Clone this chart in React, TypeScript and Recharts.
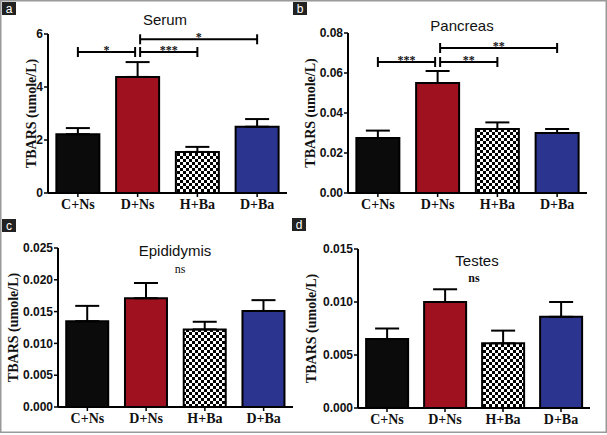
import React from 'react';
import { BarChart, Bar, Cell, XAxis, YAxis, ErrorBar, ReferenceLine, Label } from 'recharts';

const categories = ['C+Ns', 'D+Ns', 'H+Ba', 'D+Ba'];

const serumMean = [2.22, 4.38, 1.55, 2.5];
const serumSem = [0.23, 0.56, 0.19, 0.29];
const pancreasMean = [0.0275, 0.055, 0.032, 0.03];
const pancreasSem = [0.0037, 0.006, 0.0033, 0.002];
const epididymisMean = [0.0135, 0.0171, 0.0122, 0.0151];
const epididymisSem = [0.0024, 0.0024, 0.0012, 0.0017];
const testesMean = [0.0065, 0.01, 0.0061, 0.0086];
const testesSem = [0.001, 0.0012, 0.0012, 0.0014];

const serumTicks = [0, 2, 4, 6];
const pancreasTicks = [0, 0.02, 0.04, 0.06, 0.08];
const epididymisTicks = [0, 0.005, 0.01, 0.015, 0.02, 0.025];
const testesTicks = [0, 0.005, 0.01, 0.015];

type Bracket = { from: string; to: string; y: number; stars: string; shiftFrom: number; shiftTo: number };

const serumBrackets: Bracket[] = [
  { from: 'C+Ns', to: 'D+Ns', y: 5.32, stars: '*', shiftFrom: 0, shiftTo: -2.5 },
  { from: 'D+Ns', to: 'H+Ba', y: 5.32, stars: '***', shiftFrom: 2.5, shiftTo: 0 },
  { from: 'D+Ns', to: 'D+Ba', y: 5.8, stars: '*', shiftFrom: 2.5, shiftTo: 0 },
];
const pancreasBrackets: Bracket[] = [
  { from: 'C+Ns', to: 'D+Ns', y: 0.0655, stars: '***', shiftFrom: 0, shiftTo: -2.5 },
  { from: 'D+Ns', to: 'H+Ba', y: 0.0655, stars: '**', shiftFrom: 2.5, shiftTo: 0 },
  { from: 'D+Ns', to: 'D+Ba', y: 0.0725, stars: '**', shiftFrom: 2.5, shiftTo: 0 },
];

const SANS = '"Liberation Sans", Arial, sans-serif';
const SERIF = '"Liberation Serif", "Times New Roman", serif';
const FILLS = ['#0b0b0b', '#a0111f', 'url(#checker)', '#2b3590'];

const buildRows = (means: number[], sems: number[]) =>
  categories.map((name, i) => ({ name, value: means[i], err: [0, sems[i]] }));

const bracketShape = (b: Bracket) => (props: any) => {
  const x1 = props.x1 + b.shiftFrom;
  const x2 = props.x2 + b.shiftTo;
  const y = props.y1;
  return (
    <g>
      <line x1={x1} x2={x2} y1={y} y2={y} stroke="#000" strokeWidth={2} />
      <line x1={x1} x2={x1} y1={y - 5} y2={y + 5} stroke="#000" strokeWidth={2} />
      <line x1={x2} x2={x2} y1={y - 5} y2={y + 5} stroke="#000" strokeWidth={2} />
      <text x={(x1 + x2) / 2} y={y + 2} textAnchor="middle" fontSize={12} fontWeight="bold" fontFamily={SERIF} fill="#111">
        {b.stars}
      </text>
    </g>
  );
};

const yLabel = (offsetX: number) => (props: any) => {
  const vb = props.viewBox;
  const x = vb.x + offsetX;
  const y = vb.y + vb.height / 2;
  return (
    <text x={x} y={y} transform={`rotate(-90 ${x} ${y})`} textAnchor="middle" dominantBaseline="central"
      fontSize={14} fontWeight="bold" fontFamily={SERIF} fill="#111">
      TBARS (umole/L)
    </text>
  );
};

interface PanelProps {
  left: number;
  top: number;
  width: number;
  height: number;
  means: number[];
  sems: number[];
  ticks: number[];
  digits: number;
  yAxisWidth: number;
  labelX: number;
  margin: { top: number; right: number; left: number; bottom: number };
  xAxisHeight: number;
  brackets: Bracket[];
}

const Panel: React.FC<PanelProps> = ({ left, top, width, height, means, sems, ticks, digits, yAxisWidth, labelX, margin, xAxisHeight, brackets }) => {
  const rows = buildRows(means, sems);
  return (
    <div style={{ position: 'absolute', left, top }}>
      <BarChart width={width} height={height} data={rows} margin={margin} barCategoryGap="14%">
        <XAxis
          dataKey="name"
          height={xAxisHeight}
          interval={0}
          tickSize={4}
          tickMargin={2}
          axisLine={{ stroke: '#000', strokeWidth: 2 }}
          tickLine={{ stroke: '#000', strokeWidth: 1.5 }}
          tick={{ fill: '#111', fontSize: 14, fontWeight: 'bold', fontFamily: SERIF }}
        />
        <YAxis
          width={yAxisWidth}
          domain={[ticks[0], ticks[ticks.length - 1]]}
          ticks={ticks}
          interval={0}
          allowDataOverflow
          tickFormatter={(v: number) => v.toFixed(digits)}
          tickSize={4}
          tickMargin={1}
          axisLine={{ stroke: '#000', strokeWidth: 2 }}
          tickLine={{ stroke: '#000', strokeWidth: 1.5 }}
          tick={{ fill: '#111', fontSize: 12, fontWeight: 'bold', fontFamily: SANS }}
        >
          <Label content={yLabel(labelX)} />
        </YAxis>
        <Bar dataKey="value" stroke="#000" strokeWidth={2} isAnimationActive={false}>
          {rows.map((r, i) => (
            <Cell key={r.name} fill={FILLS[i]} />
          ))}
          <ErrorBar dataKey="err" direction="y" width={12} stroke="#000" strokeWidth={2} isAnimationActive={false} />
        </Bar>
        {brackets.map((b, i) => (
          <ReferenceLine
            key={i}
            segment={[{ x: b.from, y: b.y }, { x: b.to, y: b.y }]}
            shape={bracketShape(b)}
          />
        ))}
      </BarChart>
    </div>
  );
};

const PanelTag: React.FC<{ x: number; y: number; letter: string }> = ({ x, y, letter }) => (
  <g>
    <rect x={x} y={y} width={14} height={13} fill="#222" />
    <text x={x + 7} y={y + 11} textAnchor="middle" fontSize={12} fontFamily={SANS} fill="#fff">{letter}</text>
  </g>
);

export default function App() {
  return (
    <div style={{ position: 'absolute', left: 0, top: 0, width: 607, height: 435, background: '#fff', overflow: 'hidden' }}>
      <svg width={0} height={0} style={{ position: 'absolute' }}>
        <defs>
          <pattern id="checker" patternUnits="userSpaceOnUse" width={6} height={6}>
            <rect width={6} height={6} fill="#fff" />
            <rect width={3} height={3} fill="#000" />
            <rect x={3} y={3} width={3} height={3} fill="#000" />
          </pattern>
        </defs>
      </svg>

      <Panel left={0} top={0} width={300} height={215} means={serumMean} sems={serumSem} ticks={serumTicks} digits={0}
        yAxisWidth={48} labelX={31} margin={{ top: 34, right: 13, left: 0, bottom: 0 }} xAxisHeight={22} brackets={serumBrackets} />
      <Panel left={300} top={0} width={307} height={215} means={pancreasMean} sems={pancreasSem} ticks={pancreasTicks} digits={2}
        yAxisWidth={48} labelX={10} margin={{ top: 33, right: 20, left: 0, bottom: 0 }} xAxisHeight={22} brackets={pancreasBrackets} />
      <Panel left={0} top={215} width={300} height={220} means={epididymisMean} sems={epididymisSem} ticks={epididymisTicks} digits={3}
        yAxisWidth={58} labelX={13} margin={{ top: 33, right: 7, left: 0, bottom: 0 }} xAxisHeight={28} brackets={[]} />
      <Panel left={300} top={215} width={307} height={220} means={testesMean} sems={testesSem} ticks={testesTicks} digits={3}
        yAxisWidth={58} labelX={11} margin={{ top: 34, right: 17, left: 0, bottom: 0 }} xAxisHeight={27} brackets={[]} />

      <svg width={607} height={435} style={{ position: 'absolute', left: 0, top: 0, pointerEvents: 'none' }}>
        <rect x={0.75} y={0.75} width={605.5} height={431.5} fill="none" stroke="#999" strokeWidth={1.5} />
        <PanelTag x={2} y={2} letter="a" />
        <PanelTag x={293} y={2} letter="b" />
        <PanelTag x={2} y={219} letter="c" />
        <PanelTag x={292} y={218} letter="d" />
        <text x={165} y={25} textAnchor="middle" fontSize={15} fontFamily={SANS} fill="#111">Serum</text>
        <text x={462} y={31} textAnchor="middle" fontSize={15} fontFamily={SANS} fill="#111">Pancreas</text>
        <text x={175} y={256} textAnchor="middle" fontSize={15} fontFamily={SANS} fill="#111">Epididymis</text>
        <text x={477} y={266} textAnchor="middle" fontSize={15} fontFamily={SANS} fill="#111">Testes</text>
        <text x={180} y={273} textAnchor="middle" fontSize={12} fontFamily={SERIF} fill="#111">ns</text>
        <text x={474} y={282} textAnchor="middle" fontSize={12} fontWeight="bold" fontFamily={SERIF} fill="#111">ns</text>
      </svg>
    </div>
  );
}
